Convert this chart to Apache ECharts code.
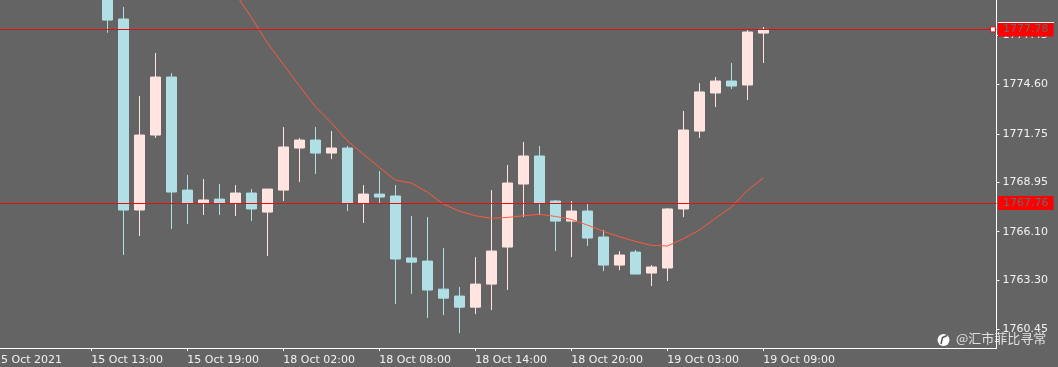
<!DOCTYPE html>
<html>
<head>
<meta charset="utf-8">
<style>html,body{margin:0;padding:0;background:#646464}#c{width:1058px;height:367px}</style>
<script src="https://cdn.jsdelivr.net/npm/echarts@6/dist/echarts.min.js"></script>
</head>
<body>
<div id="c"></div>
<script>
const candleIndex = [7,8,9,10,11,12,13,14,15,16,17,18,19,20,21,22,23,24,25,26,27,28,29,30,31,32,33,34,35,36,37,38,39,40,41,42,43,44,45,46,47,48];
const opens  = [1780.60,1778.38,1767.35,1771.68,1775.03,1768.50,1767.75,1767.98,1767.75,1768.33,1767.23,1768.50,1770.93,1771.39,1770.64,1770.93,1767.75,1768.27,1768.16,1764.58,1764.40,1762.78,1762.38,1761.74,1763.07,1765.21,1768.85,1770.47,1767.87,1766.71,1767.29,1765.79,1764.17,1764.92,1763.71,1764.00,1767.41,1771.91,1774.11,1774.80,1774.57,1777.57];
const closes = [1778.32,1767.35,1771.68,1775.03,1768.39,1767.75,1767.93,1767.75,1768.33,1767.41,1768.56,1770.99,1771.39,1770.64,1770.93,1767.75,1768.27,1768.10,1764.52,1764.34,1762.73,1762.26,1761.74,1763.07,1764.98,1768.91,1770.47,1767.75,1766.71,1767.29,1765.73,1764.17,1764.75,1763.65,1764.06,1767.41,1771.97,1774.17,1774.80,1774.51,1777.63,1777.78];
const lows   = [1777.59,1764.75,1765.85,1771.51,1766.25,1766.54,1767.06,1767.06,1767.00,1766.71,1764.69,1767.87,1768.97,1769.43,1770.29,1767.29,1766.60,1767.75,1761.92,1762.50,1761.11,1761.28,1760.24,1761.34,1761.57,1762.73,1766.94,1767.06,1764.98,1764.63,1765.27,1763.82,1763.88,1763.65,1762.96,1763.25,1766.94,1771.51,1773.30,1774.34,1773.70,1775.84];
const highs  = [1781.20,1779.08,1773.93,1776.42,1775.26,1769.37,1769.14,1768.85,1768.79,1768.56,1768.56,1772.14,1771.51,1772.14,1771.91,1771.05,1768.79,1769.60,1768.79,1767.00,1766.94,1765.15,1762.90,1764.63,1768.50,1769.95,1771.28,1771.05,1767.93,1767.87,1767.69,1766.19,1764.98,1765.04,1764.17,1767.46,1773.07,1774.68,1775.03,1775.84,1777.75,1777.92];
const maIndex = [15,16,17,18,19,20,21,22,23,24,25,26,27,28,29,30,31,32,33,34,35,36,37,38,39,40,41,42,43,44,45,46,47,48];
const maValues = [1779.85,1778.48,1777.02,1775.76,1774.53,1773.32,1772.39,1771.35,1770.58,1769.81,1769.08,1768.91,1768.39,1767.69,1767.29,1767.02,1766.87,1766.92,1767.02,1767.10,1766.98,1766.81,1766.48,1766.12,1765.81,1765.54,1765.31,1765.27,1765.69,1766.19,1766.87,1767.52,1768.48,1769.20];
const xTicks = [6,12,18,24,30,36,42,48];
const xLabelPositions = [0.36,6,12,18,24,30,36,42,48];
const xTickLabels = ['5 Oct 2021','15 Oct 13:00','15 Oct 19:00','18 Oct 02:00','18 Oct 08:00','18 Oct 14:00','18 Oct 20:00','19 Oct 03:00','19 Oct 09:00'];
const yTicks = [1760.45,1763.30,1766.10,1768.95,1771.75,1774.60,1777.45];
const priceLines = [1777.78,1767.76];
const watermark = '@汇市菲比寻常';

const FONT = '"DejaVu Sans"';
const chart = echarts.init(document.getElementById('c'), null, {renderer:'canvas'});
chart.setOption({
  animation:false,
  backgroundColor:'#646464',
  grid:{left:-4.7,top:0,width:1001.2,height:348,containLabel:false,outerBoundsMode:'none'},
  xAxis:{
    type:'value',min:0,max:62.575,splitLine:{show:false},
    axisLine:{show:true,onZero:false,lineStyle:{color:'#ffffff',width:1}},
    axisTick:{show:true,customValues:xTicks,length:3,lineStyle:{color:'#ffffff'}},
    axisLabel:{show:true,customValues:xLabelPositions,color:'#f2f2f2',fontFamily:FONT,fontSize:11,align:'left',margin:7,
      formatter:v=>xTickLabels[xLabelPositions.indexOf(v)]||''}
  },
  yAxis:{
    type:'value',position:'right',min:1759.38,max:1779.48,splitLine:{show:false},
    axisLine:{show:true,onZero:false,lineStyle:{color:'#ffffff',width:1}},
    axisTick:{show:true,customValues:yTicks,length:3,lineStyle:{color:'#ffffff'}},
    axisLabel:{show:true,customValues:yTicks,color:'#f2f2f2',fontFamily:FONT,fontSize:11,margin:6,align:'left',padding:[2,0,0,0],
      formatter:v=>v.toFixed(2)}
  },
  series:[
    {type:'candlestick',barWidth:10,clip:true,
     encode:{x:0,y:[1,2,3,4]},
     data:candleIndex.map((k,i)=>[k,opens[i],closes[i],lows[i],highs[i]]),
     itemStyle:{color:'#ffe4e1',color0:'#b0e0e6',borderColor:'#ffe4e1',borderColor0:'#b0e0e6',borderWidth:1},
     markLine:{silent:true,symbol:'none',animation:false,
       lineStyle:{color:'#e01010',width:1,type:'solid'},
       label:{show:true,position:'end',distance:[1.5,0],formatter:p=>p.value.toFixed(2),color:'#6a6a6a',fontFamily:FONT,fontSize:11,
              backgroundColor:'#ff0000',lineHeight:14,padding:[0,5,0,5]},
       data:priceLines.map(v=>({yAxis:v}))},
     markPoint:{silent:true,animation:false,symbol:'rect',symbolSize:5,
       itemStyle:{color:'#ffffff',borderColor:'#e01010',borderWidth:1},label:{show:false},
       data:[{coord:[62.35,priceLines[0]]}]}
    },
    {type:'line',data:maIndex.map((k,i)=>[k,maValues[i]]),showSymbol:false,smooth:false,
     lineStyle:{color:'#ff5a3c',width:1},clip:true}
  ],
  graphic:[
    {type:'line',shape:{x1:998,y1:22.5,x2:1054,y2:22.5},style:{stroke:'#ffffff',lineWidth:1},z:20},
    {type:'circle',shape:{cx:943.5,cy:340,r:6},style:{fill:'#ffffff'},z:20},
    {type:'polyline',shape:{points:[[947,335.5],[942.5,337.5],[941,344]]},style:{stroke:'#555555',lineWidth:1.5,fill:null},z:21},
    {type:'text',x:956,y:332,style:{text:watermark,fill:'rgba(255,255,255,0.8)',font:'13px "Noto Sans CJK SC"'},z:20}
  ]
});
</script>
</body>
</html>
